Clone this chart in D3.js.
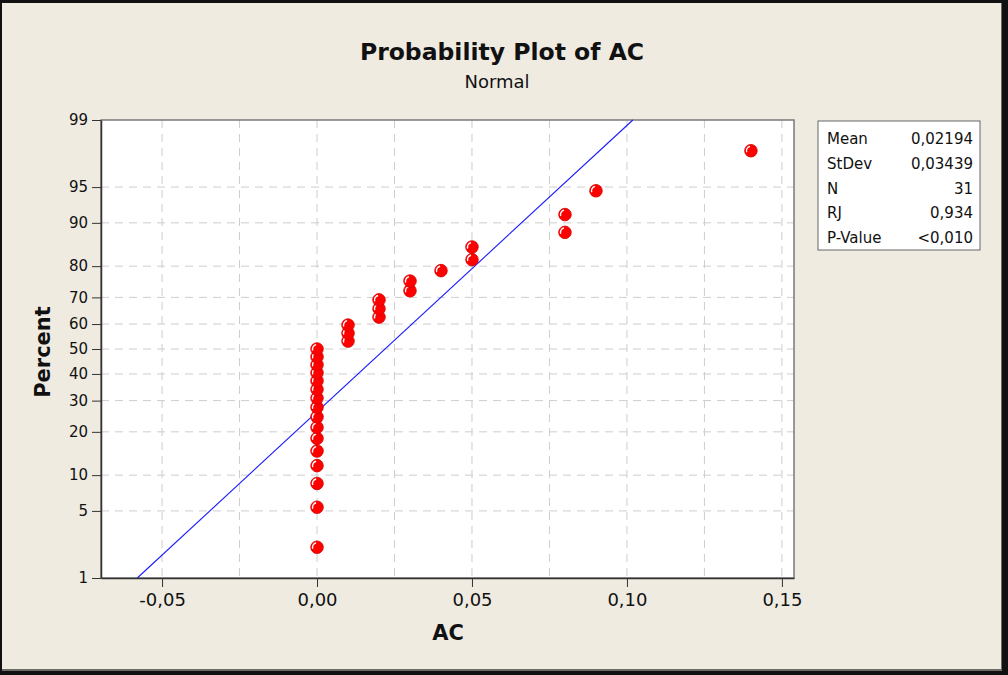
<!DOCTYPE html>
<html>
<head>
<meta charset="utf-8">
<script src="https://cdn.jsdelivr.net/npm/d3@7"></script>
<style>
  html, body { margin: 0; padding: 0; background: #000; }
  svg { display: block; }
</style>
</head>
<body>
<svg id="chart"></svg>
<script>
// data
const acValues = [0, 0, 0, 0, 0, 0, 0, 0, 0, 0, 0, 0, 0, 0, 0, 0,
                  0.01, 0.01, 0.01, 0.02, 0.02, 0.02, 0.03, 0.03, 0.04,
                  0.05, 0.05, 0.08, 0.08, 0.09, 0.14]
const percents = [2.2, 5.4, 8.6, 11.8, 15.0, 18.2, 21.3, 24.5, 27.7, 30.9, 34.1, 37.3, 40.4, 43.6, 46.8, 50.0,
                  53.2, 56.4, 59.6, 62.7, 65.9, 69.1, 72.3, 75.5, 78.7,
                  81.8, 85.0, 88.2, 91.4, 94.6, 97.8]
const fitPercents = [1, 99]
const fitValues = [-0.0580, 0.1019]
const yTicks = [1, 5, 10, 20, 30, 40, 50, 60, 70, 80, 90, 95, 99]
const xTicks = [-0.05, 0, 0.05, 0.10, 0.15]
const xGrid = [-0.05, -0.025, 0, 0.025, 0.05, 0.075, 0.10, 0.125, 0.15]
const statLabels = ["Mean", "StDev", "N", "RJ", "P-Value"]
const statValues = ["0,02194", "0,03439", "31", "0,934", "<0,010"]

const width = 1008, height = 675
const margin = ({top: 120, right: 214, bottom: 97, left: 101})
const font = "Verdana, 'DejaVu Sans', sans-serif"
const comma = d => d3.format(".2f")(d).replace(".", ",").replace("\u2212", "-")

const svg = d3.select("#chart")
    .attr("width", width)
    .attr("height", height)
    .attr("viewBox", [0, 0, width, height])

// window frame
svg.append("rect").attr("width", width).attr("height", height).attr("fill", "#111")
svg.append("rect").attr("x", 2).attr("y", 3).attr("width", width - 8).attr("height", height - 7).attr("fill", "#6e6a66")
svg.append("rect").attr("x", 2).attr("y", 3).attr("width", width - 9).attr("height", height - 9).attr("fill", "#EFEBE1")

const x = d3.scaleLinear()
    .domain([-0.0697, 0.1539])
    .range([margin.left, width - margin.right])

// inverse normal cdf (Acklam) for the probability scale
function probit(p) {
    const a = [-3.969683028665376e+01, 2.209460984245205e+02, -2.759285104469687e+02, 1.383577518672690e+02, -3.066479806614716e+01, 2.506628277459239e+00]
    const b = [-5.447609879822406e+01, 1.615858368580409e+02, -1.556989798598866e+02, 6.680131188771972e+01, -1.328068155288572e+01]
    const c = [-7.784894002430293e-03, -3.223964580411365e-01, -2.400758277161838e+00, -2.549732539343734e+00, 4.374664141464968e+00, 2.938163982698783e+00]
    const d = [7.784695709041462e-03, 3.224671290700398e-01, 2.445134137142996e+00, 3.754408661907416e+00]
    const pl = 0.02425
    let q, r
    if (p < pl) {
        q = Math.sqrt(-2 * Math.log(p))
        return (((((c[0]*q+c[1])*q+c[2])*q+c[3])*q+c[4])*q+c[5]) / ((((d[0]*q+d[1])*q+d[2])*q+d[3])*q+1)
    } else if (p <= 1 - pl) {
        q = p - 0.5; r = q * q
        return (((((a[0]*r+a[1])*r+a[2])*r+a[3])*r+a[4])*r+a[5])*q / (((((b[0]*r+b[1])*r+b[2])*r+b[3])*r+b[4])*r+1)
    }
    q = Math.sqrt(-2 * Math.log(1 - p))
    return -(((((c[0]*q+c[1])*q+c[2])*q+c[3])*q+c[4])*q+c[5]) / ((((d[0]*q+d[1])*q+d[2])*q+d[3])*q+1)
}

const yz = d3.scaleLinear()
    .domain([probit(0.01), probit(0.99)])
    .range([height - margin.bottom, margin.top])
const y = p => yz(probit(p / 100))

// plot area
svg.append("rect")
    .attr("x", margin.left).attr("y", margin.top)
    .attr("width", width - margin.right - margin.left)
    .attr("height", height - margin.bottom - margin.top)
    .attr("fill", "white")

// grid
svg.append("g")
    .attr("stroke", "#cdcdcd")
    .attr("stroke-dasharray", "8,6")
    .call(g => g.selectAll("line.v")
        .data(xGrid)
        .join("line")
        .attr("class", "v")
        .attr("x1", d => x(d)).attr("x2", d => x(d))
        .attr("y1", margin.top).attr("y2", height - margin.bottom))
    .call(g => g.selectAll("line.h")
        .data(yTicks.slice(1, -1))
        .join("line")
        .attr("class", "h")
        .attr("x1", margin.left).attr("x2", width - margin.right)
        .attr("y1", d => y(d)).attr("y2", d => y(d)))

// frame
svg.append("rect")
    .attr("x", margin.left).attr("y", margin.top)
    .attr("width", width - margin.right - margin.left)
    .attr("height", height - margin.bottom - margin.top)
    .attr("fill", "none")
    .attr("stroke", "#7a7a7a")
    .attr("stroke-width", 1.5)

// fitted line
svg.append("path")
    .datum(d3.zip(fitValues, fitPercents))
    .attr("fill", "none")
    .attr("stroke", "#1a1aff")
    .attr("stroke-width", 1.1)
    .attr("d", d3.line().x(d => x(d[0])).y(d => y(d[1])))

// axes
const xAxis = g => g
    .attr("transform", `translate(0,${height - margin.bottom})`)
    .call(d3.axisBottom(x).tickValues(xTicks).tickFormat(comma).tickSizeInner(9).tickSizeOuter(0).tickPadding(6))
    .call(g => g.select(".domain").attr("stroke", "#333").attr("stroke-width", 1.5))
    .call(g => g.selectAll(".tick line").attr("stroke", "#333"))
    .attr("font-size", 18)
    .attr("font-family", font)
    .call(g => g.selectAll("text").attr("fill", "#111"))

const yAxis = g => g
    .attr("transform", `translate(${margin.left},0)`)
    .call(d3.axisLeft(yz).tickValues(yTicks.map(p => probit(p / 100))).tickFormat((d, i) => yTicks[i]).tickSizeInner(9).tickSizeOuter(0).tickPadding(4))
    .call(g => g.select(".domain").attr("stroke", "#333").attr("stroke-width", 1.5))
    .call(g => g.selectAll(".tick line").attr("stroke", "#333"))
    .attr("font-size", 15)
    .attr("font-family", font)
    .call(g => g.selectAll("text").attr("fill", "#111"))

svg.append("g").call(xAxis)
svg.append("g").call(yAxis)

// points
const pts = svg.append("g")
    .selectAll("g")
    .data(d3.zip(acValues, percents))
    .join("g")
    .attr("transform", d => `translate(${x(d[0])},${y(d[1])})`)
pts.append("circle")
    .attr("r", 6.3)
    .attr("fill", "#ff0000")
    .attr("stroke", "#d40000")
    .attr("stroke-width", 0.8)
pts.append("path")
    .attr("d", d3.arc()({innerRadius: 3.8, outerRadius: 5.2, startAngle: -1.9, endAngle: -0.2}))
    .attr("fill", "white")

// titles
svg.append("text")
    .attr("x", 502).attr("y", 60)
    .attr("text-anchor", "middle")
    .attr("font-family", font).attr("font-weight", "bold").attr("font-size", 23.5)
    .attr("fill", "#111")
    .text("Probability Plot of AC")
svg.append("text")
    .attr("x", 497).attr("y", 88)
    .attr("text-anchor", "middle")
    .attr("font-family", font).attr("font-size", 18)
    .attr("fill", "#111")
    .text("Normal")
svg.append("text")
    .attr("x", 448).attr("y", 640)
    .attr("text-anchor", "middle")
    .attr("font-family", font).attr("font-weight", "bold").attr("font-size", 21)
    .attr("fill", "#111")
    .text("AC")
svg.append("text")
    .attr("transform", `translate(50,${352}) rotate(-90)`)
    .attr("text-anchor", "middle")
    .attr("font-family", font).attr("font-weight", "bold").attr("font-size", 21)
    .attr("fill", "#111")
    .text("Percent")

// stats box
const box = svg.append("g").attr("transform", "translate(818,121)")
box.append("rect")
    .attr("width", 162).attr("height", 129)
    .attr("fill", "white").attr("stroke", "#666").attr("stroke-width", 1)
const rowY = d3.scalePoint().domain(d3.range(statLabels.length)).range([23, 122])
box.append("g")
    .attr("font-family", font).attr("font-size", 15).attr("fill", "#111")
    .selectAll("text")
    .data(statLabels)
    .join("text")
    .attr("x", 9).attr("y", (d, i) => rowY(i))
    .text(d => d)
box.append("g")
    .attr("font-family", font).attr("font-size", 15).attr("fill", "#111")
    .attr("text-anchor", "end")
    .selectAll("text")
    .data(statValues)
    .join("text")
    .attr("x", 155).attr("y", (d, i) => rowY(i))
    .text(d => d)
</script>
</body>
</html>
